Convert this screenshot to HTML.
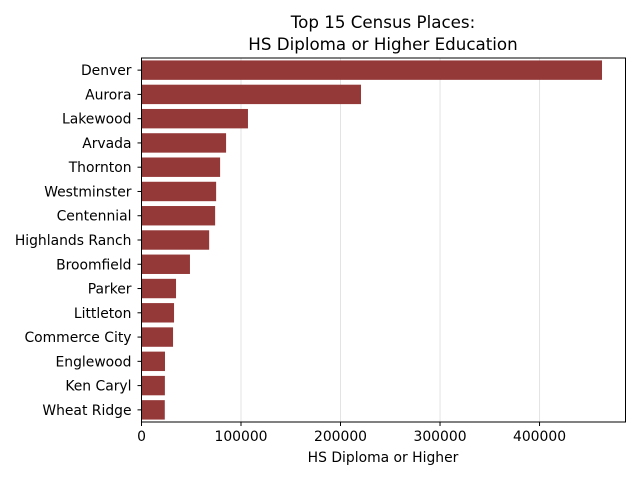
<!DOCTYPE html>
<html><head><meta charset="utf-8"><style>
body{margin:0;background:#fff}
svg text{font-family:"DejaVu Sans","Liberation Sans",sans-serif;fill:#000}
</style></head><body>
<svg width="640" height="480" id="c">
<text x="383" y="28" font-size="16.7" text-anchor="middle">Top 15 Census Places:</text>
<text x="383" y="50" font-size="16.7" text-anchor="middle">HS Diploma or Higher Education</text>
<text x="383" y="462" font-size="13.9" text-anchor="middle">HS Diploma or Higher</text>
<g id="grid"></g><g id="bars"></g><g id="ticks"></g>
<rect x="141.5" y="58" width="484" height="364" fill="none" stroke="#000" stroke-width="1"/>
</svg>
<script>
const categories=["Denver","Aurora","Lakewood","Arvada","Thornton","Westminster","Centennial","Highlands Ranch","Broomfield","Parker","Littleton","Commerce City","Englewood","Ken Caryl","Wheat Ridge"];
const values=[462800,220600,107000,85000,79000,75000,74000,68000,48700,34700,32700,31700,23600,23500,23400];
const xTicks=[0,100000,200000,300000,400000];
const NS="http://www.w3.org/2000/svg";
const x0=141.5,x1=625.5,xMax=486400,yTop=58,yBot=422;
const step=(yBot-yTop)/categories.length;
const X=v=>x0+v/xMax*(x1-x0);
const Y=i=>yTop+step*(i+0.5);
function mk(t,a,p){const e=document.createElementNS(NS,t);for(const k in a)e.setAttribute(k,a[k]);document.getElementById(p).appendChild(e);return e;}
xTicks.forEach(t=>{
 const g=mk("line",{x1:X(t),x2:X(t),y1:yTop,y2:yBot,stroke:"#e3e3e3","stroke-width":1},"grid");
 
 
 const tk=mk("line",{x1:X(t),x2:X(t),y1:yBot,y2:yBot+4,stroke:"#000"},"ticks");
 
 
 const l=mk("text",{x:X(t),y:yBot+19,"font-size":13.9,"text-anchor":"middle"},"ticks");
 l.textContent=t;
 
 
});
categories.forEach((c,i)=>{
 const h=step*0.8;
 const r=mk("rect",{x:x0,y:Y(i)-h/2,width:X(values[i])-x0,height:h,fill:"#943838"},"bars");
 
 
 const tk=mk("line",{x1:x0-4,x2:x0,y1:Y(i),y2:Y(i),stroke:"#000"},"ticks");
 
 
 const l=mk("text",{x:x0-10,y:Y(i)+5,"font-size":13.9,"text-anchor":"end"},"ticks");
 l.textContent=c;
 
 
});
</script>
</body></html>
